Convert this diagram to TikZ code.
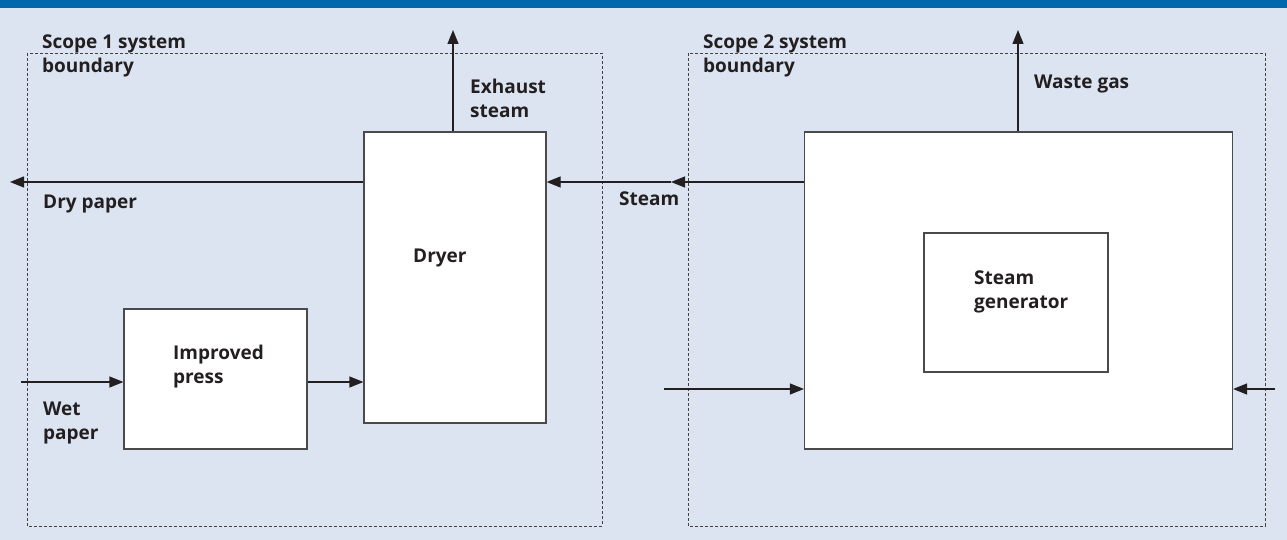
\documentclass[tikz,border=0pt]{standalone}
\usepackage{fontspec}
\setmainfont{Open Sans}
\usetikzlibrary{arrows.meta,positioning}
\definecolor{bar}{HTML}{0067AC}
\definecolor{bg}{HTML}{DCE4F1}
\definecolor{ink}{HTML}{231F20}
\definecolor{edge}{HTML}{4A4A4C}
\begin{document}
\begin{tikzpicture}[x=1pt,y=-1pt,
            box/.style={draw=edge, fill=white, line width=1.2pt, inner sep=0pt},
            boundary/.style={draw=ink!85, line width=0.8pt, dash pattern=on 3pt off 2pt},
            flow/.style={-{Triangle[length=14pt,width=11pt]}, draw=ink, line width=1.2pt},
            lbl/.style={font=\fontsize{19}{24}\selectfont\bfseries, text=ink, inner sep=0pt, anchor=base west, align=left}
        ]
            % Background and top bar
            \fill[bg] (0,0) rectangle (1287,540);
            \fill[bar] (0,0) rectangle (1287,8);
            \useasboundingbox (0,0) rectangle (1287,540);

            % System boundaries
            \draw[boundary] (27,53) rectangle (602,526);
            \draw[boundary] (688,53) rectangle (1265,526);

            % Process boxes
            \node[box, minimum width=182pt, minimum height=291pt] (dryer) at (455,277.5) {};
            \node[box, minimum width=183pt, minimum height=140pt] (press) at (215.5,379) {};
            \node[box, minimum width=428pt, minimum height=317pt] (plant) at (1018.5,290.5) {};
            \node[box, minimum width=184pt, minimum height=139pt] (gen) at (1016,302.5) {};

            % Free ends of the flows
            \coordinate (exhaust) at (453,30);
            \coordinate (wastegas) at (1018,30);
            \coordinate (drypaper) at (10,182);
            \coordinate (steammid) at (671,182);
            \coordinate (wetpaper) at (21,382);
            \coordinate (fuelin) at (664,389);
            \coordinate (airin) at (1275,389);

            % Flows
            \draw[flow] (dryer.north -| exhaust) -- (exhaust);
            \draw[flow] (plant.north -| wastegas) -- (wastegas);
            \draw[flow] (dryer.west |- drypaper) -- (drypaper);
            \draw[flow] (plant.west |- steammid) -- (steammid);
            \draw[flow] (steammid) -- (dryer.east |- steammid);
            \draw[flow] (wetpaper) -- (press.west |- wetpaper);
            \draw[flow] (press.east |- wetpaper) -- (dryer.west |- wetpaper);
            \draw[flow] (fuelin) -- (plant.west |- fuelin);
            \draw[flow] (airin) -- (plant.east |- airin);

            % Labels (two-line labels sit on their last line)
            \node[lbl] (scope1) at (42,73) {Scope 1 system\\boundary};
            \node[lbl] (scope2) at (703,73) {Scope 2 system\\boundary};
            \node[lbl] (exhaustlbl) at (470,118) {Exhaust\\steam};
            \node[lbl] (wastelbl) at (1034,89) {Waste gas};
            \node[lbl] (drylbl) at (43,208) {Dry paper};
            \node[lbl] (steamlbl) at (619,206) {Steam};
            \node[lbl] (dryerlbl) at (413,262) {Dryer};
            \node[lbl] (presslbl) at (173,383) {Improved\\press};
            \node[lbl] (wetlbl) at (43,439) {Wet\\paper};
            \node[lbl] (genlbl) at (974,308) {Steam\\generator};
        \end{tikzpicture}
\end{document}
